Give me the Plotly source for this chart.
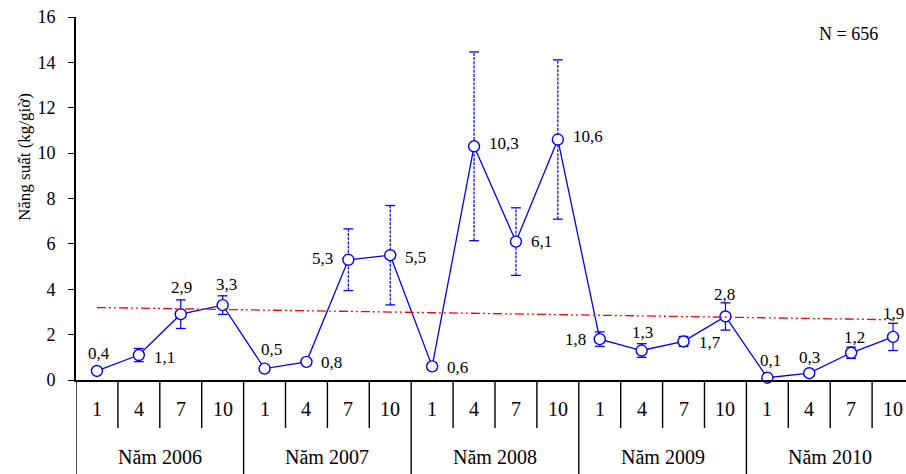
import numpy as np
import plotly.graph_objects as go

# ---- data -------------------------------------------------------------
years = ["Năm 2006", "Năm 2007", "Năm 2008", "Năm 2009", "Năm 2010"]
months = ["1", "4", "7", "10"]
productivity = [0.4, 1.1, 2.9, 3.3,
                0.5, 0.8, 5.3, 5.5,
                0.6, 10.3, 6.1, 10.6,
                1.8, 1.3, 1.7, 2.8,
                0.1, 0.3, 1.2, 1.9]
std_err = [0.1, 0.29, 0.63, 0.41,
           0.1, 0.12, 1.36, 2.19,
           0.15, 4.16, 1.49, 3.51,
           0.32, 0.3, 0.22, 0.6,
           0.05, 0.06, 0.25, 0.6]
y_ticks = [0, 2, 4, 6, 8, 10, 12, 14, 16]
sample_note = "N = 656"
y_title = "Năng suất (kg/giờ)"

# ---- styling ----------------------------------------------------------
FONT = "Liberation Serif"
BLUE = "#0000FF"
# value label placement: side, x shift (px), y shift (px)
label_style = [("a", 2, 17), ("r", 13, -2), ("a", 1, 27), ("a", 4, 21),
               ("a", 7, 19), ("r", 13, -1), ("l", -13, 1), ("r", 13, -2),
               ("r", 13, -1), ("r", 13, 3), ("r", 13, 0), ("r", 13, 3),
               ("l", -12, 0), ("a", 1, 18), ("r", 13, -1), ("a", -1, 22),
               ("a", 3, 17), ("a", 0, 16), ("a", 3, 15), ("a", 0, 23)]
# long bars are drawn dotted, short ones solid
dashed_bar = [e > 1.0 for e in std_err]

n = len(productivity)
xs = list(range(n))

W, H = 906, 474
ML, MR, MT, MB = 76, 0, 17, 94
plot_h = H - MT - MB
cell_px = 41.9
x_max = (W - ML - MR) / cell_px - 0.5

fig = go.Figure()

# error bars as vertical segments with caps
for dashed in (False, True):
    seg_x, seg_y, cap_x, cap_y = [], [], [], []
    for i, (v, e) in enumerate(zip(productivity, std_err)):
        if dashed_bar[i] != dashed:
            continue
        seg_x += [i, i, None]
        seg_y += [v - e, v + e, None]
        cap_x += [i, i]
        cap_y += [v - e, v + e]
    fig.add_trace(go.Scatter(
        x=seg_x, y=seg_y, mode="lines", hoverinfo="skip",
        line=dict(color=BLUE, width=1.2, dash="3px,1.2px" if dashed else "solid"),
        showlegend=False, cliponaxis=False))
    fig.add_trace(go.Scatter(
        x=cap_x, y=cap_y, mode="markers", hoverinfo="skip",
        marker=dict(symbol="line-ew", size=7, line=dict(color=BLUE, width=1.3)),
        showlegend=False, cliponaxis=False))

# main series
fig.add_trace(go.Scatter(
    x=xs, y=productivity, mode="lines+markers",
    line=dict(color=BLUE, width=1.3),
    marker=dict(symbol="circle", size=11, color="white",
                line=dict(color=BLUE, width=1.4)),
    showlegend=False, cliponaxis=False))

# linear trend
slope, intercept = np.polyfit(xs, productivity, 1)
fig.add_trace(go.Scatter(
    x=[xs[0], xs[-1]],
    y=[intercept + slope * xs[0], intercept + slope * xs[-1]],
    mode="lines", hoverinfo="skip",
    line=dict(color="#FF0000", width=1.3, dash="9px,3px,2px,3px,2px,3px"),
    showlegend=False))

annotations = []
# value labels
for i, v in enumerate(productivity):
    side, dx, dy = label_style[i]
    anchor = {"a": "center", "r": "left", "l": "right"}[side]
    annotations.append(dict(
        x=i, y=v, xref="x", yref="y", text=f"{v:.1f}".replace(".", ","),
        showarrow=False, xanchor=anchor, yanchor="middle",
        xshift=dx, yshift=dy, font=dict(family=FONT, size=17, color="black")))

# month and year labels below the axis
for i in range(n):
    annotations.append(dict(
        x=i, y=0, xref="x", yref="paper", text=months[i % len(months)],
        showarrow=False, yanchor="middle", yshift=-29,
        font=dict(family=FONT, size=20, color="black")))
for k, yr in enumerate(years):
    annotations.append(dict(
        x=k * len(months) + (len(months) - 1) / 2, y=0, xref="x", yref="paper",
        text=yr, showarrow=False, yanchor="middle", yshift=-77,
        font=dict(family=FONT, size=20, color="black")))

annotations.append(dict(
    x=0, y=(H - MB - 157) / plot_h, xref="paper", yref="paper",
    text=y_title, textangle=-90, showarrow=False,
    xanchor="center", yanchor="middle", xshift=-(ML - 24),
    font=dict(family=FONT, size=17, color="black")))

annotations.append(dict(
    x=(848 - ML) / (W - ML - MR), y=(H - MB - 34) / plot_h,
    xref="paper", yref="paper", text=sample_note, showarrow=False,
    xanchor="center", yanchor="middle",
    font=dict(family=FONT, size=18, color="black")))

# category separators below the axis
shapes = []
for b in range(n + 1):
    is_year = b % len(months) == 0
    depth = MB if is_year else 48
    shapes.append(dict(
        type="line", xref="x", yref="paper",
        x0=b - 0.5, x1=b - 0.5, y0=0, y1=-depth / plot_h,
        line=dict(color="black", width=1.4)))

fig.update_layout(
    width=W, height=H,
    margin=dict(l=ML, r=MR, t=MT, b=MB, pad=0),
    paper_bgcolor="white", plot_bgcolor="white",
    annotations=annotations, shapes=shapes,
    xaxis=dict(range=[-0.5, x_max], showgrid=False, zeroline=False,
               showticklabels=False, ticks="", showline=True,
               linecolor="black", linewidth=2),
    yaxis=dict(range=[0, 16], tickvals=y_ticks, showgrid=False,
               zeroline=False, showline=True, linecolor="black",
               linewidth=2, ticks="outside", ticklen=6, tickwidth=1.4,
               tickcolor="black", ticklabelstandoff=9,
               tickfont=dict(family=FONT, size=18, color="black")),
)

fig.write_html("out.html")
